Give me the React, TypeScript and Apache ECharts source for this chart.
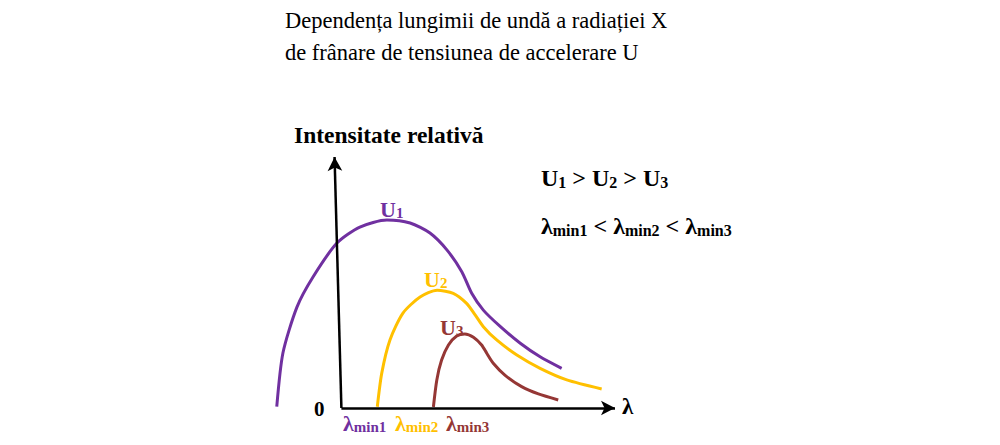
import React, { useEffect, useRef } from "react";
import * as echarts from "echarts";

// Curve points [λ (arbitrary units), relative intensity]
const curveU1: [number, number][] = [
  [-1.89, 0.05], [-1.71, 2.19], [-1.3, 4.02], [-0.83, 5.22], [-0.13, 6.57],
  [0.54, 7.21], [1.33, 7.49], [2.01, 7.37], [2.59, 6.97], [3.09, 6.29],
  [3.52, 5.43], [3.81, 4.57], [4.15, 3.9], [4.65, 3.24],
  [5.23, 2.58], [5.81, 2.04], [6.44, 1.58],
];
const curveU2: [number, number][] = [
  [1.05, 0.05], [1.18, 1.39], [1.42, 2.71], [1.8, 3.78], [2.3, 4.42],
  [2.8, 4.69], [3.27, 4.57], [3.66, 4.17], [3.91, 3.71], [4.15, 3.24],
  [4.54, 2.71], [5.13, 2.11], [5.81, 1.58], [6.59, 1.12], [7.61, 0.76],
];
const curveU3: [number, number][] = [
  [2.69, 0.04], [2.79, 1.12], [2.93, 1.91], [3.13, 2.51], [3.37, 2.87],
  [3.61, 2.95], [3.86, 2.82], [4.1, 2.51], [4.25, 2.18], [4.44, 1.78],
  [4.78, 1.31], [5.27, 0.85], [5.76, 0.56], [6.34, 0.32],
];
const xAxisEnd: [number, number] = [8, 0];
const yAxisEnd: [number, number] = [-0.2, 10];

const titleLines = [
  "Dependența lungimii de undă a radiației X",
  "de frânare de tensiunea de accelerare U",
];
const yLabel = "Intensitate relativă";

const PURPLE = "#7030a0";
const YELLOW = "#ffc000";
const BROWN = "#953735";
const SERIF = "Liberation Serif";

const subRich = (color: string, size: number, subSize: number, lh: number, raise: number) => ({
  m: { fontFamily: SERIF, fontWeight: "bold", fontSize: size, fill: color, verticalAlign: "top", lineHeight: lh },
  s: {
    fontFamily: SERIF, fontWeight: "bold", fontSize: subSize, fill: color,
    verticalAlign: "bottom", padding: [0, 0, raise, 0],
  },
});

export default function App() {
  const ref = useRef<HTMLDivElement>(null);
  useEffect(() => {
    if (!ref.current) return;
    const chart = echarts.init(ref.current, undefined, { renderer: "svg" });
    const curve = (name: string, data: [number, number][], color: string) => ({
      name,
      type: "line",
      data,
      smooth: 0.25,
      symbol: "none",
      lineStyle: { color, width: 3 },
      z: 3,
    });
    const txt = (x: number, y: number, text: string, size: number, bold: boolean) => ({
      type: "text",
      x,
      y,
      style: { text, fontFamily: SERIF, fontSize: size, fontWeight: bold ? "bold" : "normal", fill: "#000" },
    });
    const richSmall = (x: number, y: number, text: string, color: string) => ({
      type: "text",
      x,
      y,
      style: { text, fontFamily: SERIF, fontSize: 22, fontWeight: "bold", fill: color, rich: subRich(color, 22, 15, 24, 2) },
    });
    const richBig = (x: number, y: number, text: string) => ({
      type: "text",
      x,
      y,
      style: { text, fontFamily: SERIF, fontSize: 24, fontWeight: "bold", fill: "#000", rich: subRich("#000", 24, 16, 26, 2) },
    });
    chart.setOption({
      animation: false,
      grid: { left: 273, top: 157, width: 342, height: 251 },
      xAxis: { type: "value", min: -2, max: 8, show: false },
      yAxis: { type: "value", min: 0, max: 10, show: false },
      series: [
        curve("U1", curveU1, PURPLE),
        curve("U2", curveU2, YELLOW),
        curve("U3", curveU3, BROWN),
        {
          type: "line",
          data: [],
          markLine: {
            silent: true,
            symbol: ["none", "arrow"],
            symbolSize: [11, 14],
            label: { show: false },
            lineStyle: { color: "#000", width: 2.5, type: "solid" },
            data: [
              [{ coord: [0, 0] }, { coord: xAxisEnd }],
              [{ coord: [0, 0] }, { coord: yAxisEnd }],
            ],
          },
        },
      ],
      graphic: [
        txt(285, 9, titleLines[0], 22.5, false),
        txt(285, 41, titleLines[1], 22.5, false),
        txt(294, 123, yLabel, 23.5, true),
        richBig(541, 166, "{m|U}{s|1}{m| > U}{s|2}{m| > U}{s|3}"),
        richBig(541, 214, "{m|λ}{s|min1}{m| < λ}{s|min2}{m| < λ}{s|min3}"),
        txt(314, 398, "0", 21, true),
        txt(622, 395, "λ", 23, true),
        richSmall(380, 198, "{m|U}{s|1}", PURPLE),
        richSmall(424, 268, "{m|U}{s|2}", YELLOW),
        richSmall(440, 316, "{m|U}{s|3}", BROWN),
        richSmall(343, 412, "{m|λ}{s|min1}", PURPLE),
        richSmall(395, 412, "{m|λ}{s|min2}", YELLOW),
        richSmall(446, 412, "{m|λ}{s|min3}", BROWN),
      ],
    });
    return () => chart.dispose();
  }, []);
  return (
    <div
      ref={ref}
      style={{ position: "fixed", left: 0, top: 0, width: 1000, height: 445, background: "#fff" }}
    />
  );
}
